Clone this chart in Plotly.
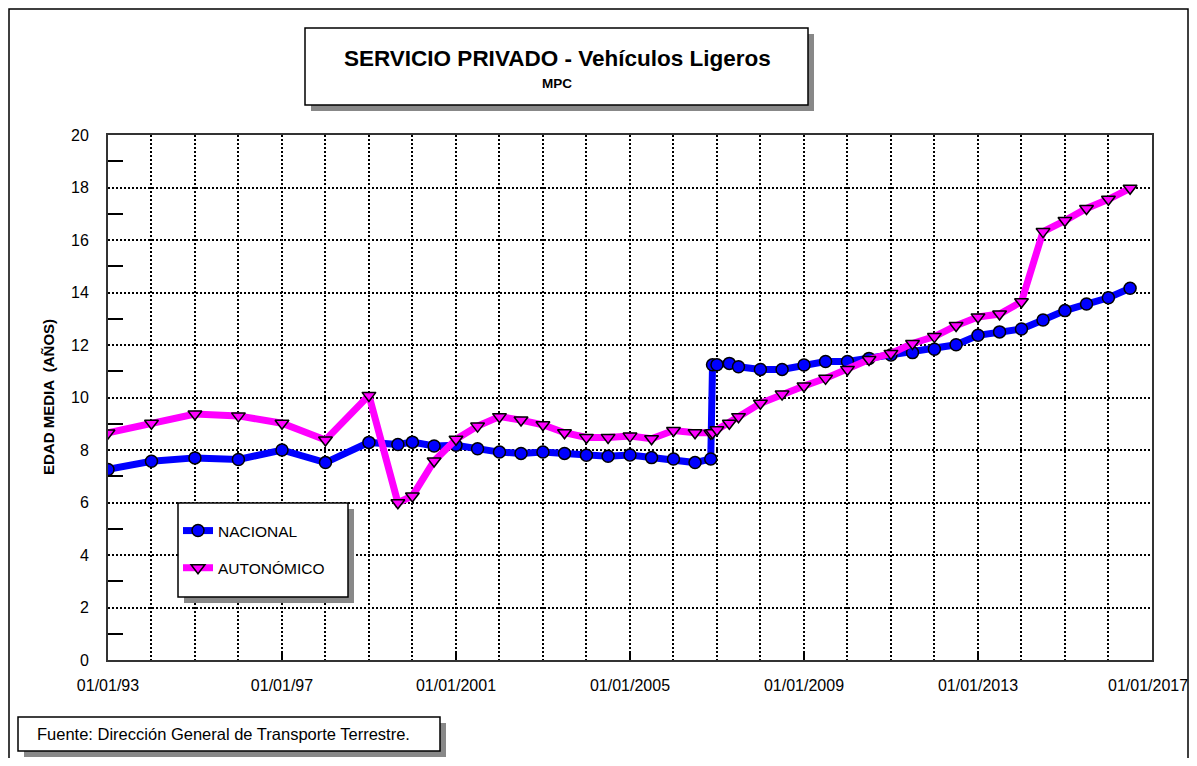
import plotly.graph_objects as go

# ---------------- data ----------------
dates = ["1993-01-01", "1994-01-01", "1995-01-01", "1996-01-01", "1997-01-01",
         "1998-01-01", "1999-01-01", "1999-09-01", "2000-01-01", "2000-07-01",
         "2001-01-01", "2001-07-01", "2002-01-01", "2002-07-01", "2003-01-01",
         "2003-07-01", "2004-01-01", "2004-07-01", "2005-01-01", "2005-07-01",
         "2006-01-01", "2006-07-01", "2006-11-10", "2006-11-25", "2007-01-01",
         "2007-04-15", "2007-07-01", "2008-01-01", "2008-07-01", "2009-01-01",
         "2009-07-01", "2010-01-01", "2010-07-01", "2011-01-01", "2011-07-01",
         "2012-01-01", "2012-07-01", "2013-01-01", "2013-07-01", "2014-01-01",
         "2014-07-01", "2015-01-01", "2015-07-01", "2016-01-01", "2016-07-01"]

nacional = [7.26, 7.57, 7.70, 7.64, 8.00, 7.52, 8.29, 8.21, 8.30, 8.15,
            8.18, 8.05, 7.92, 7.87, 7.92, 7.87, 7.80, 7.76, 7.81, 7.71,
            7.66, 7.52, 7.66, 11.25, 11.25, 11.30, 11.17, 11.07, 11.07, 11.24,
            11.37, 11.37, 11.49, 11.62, 11.71, 11.84, 12.01, 12.37, 12.50, 12.61,
            12.95, 13.31, 13.56, 13.80, 14.16]

autonomico = [8.65, 9.02, 9.37, 9.30, 9.02, 8.38, 10.08, 5.99, 6.25, 7.58,
              8.41, 8.91, 9.27, 9.14, 8.96, 8.66, 8.48, 8.48, 8.53, 8.43,
              8.74, 8.66, 8.64, 8.66, 8.77, 9.02, 9.27, 9.78, 10.13, 10.44,
              10.73, 11.07, 11.45, 11.68, 12.06, 12.32, 12.74, 13.07, 13.18, 13.65,
              16.32, 16.74, 17.20, 17.55, 17.97]

tick_vals = ["1993-01-01", "1997-01-01", "2001-01-01", "2005-01-01",
             "2009-01-01", "2013-01-01", "2017-01-01"]
tick_text = ["01/01/93", "01/01/97", "01/01/2001", "01/01/2005",
             "01/01/2009", "01/01/2013", "01/01/2017"]

title_main = "SERVICIO PRIVADO - Vehículos Ligeros"
title_sub = "MPC"
y_title = "EDAD MEDIA  (AÑOS)"
source = "Fuente: Dirección General de Transporte Terrestre."

# ---------------- layout helpers (window pixel coords) ----------------
OFF = 8                      # page body margin
W, H = 1197 - 2 * OFF, 766 - 2 * OFF
PL, PR, PT, PB = 108, 1152, 135, 660   # plot area in window coords
L, T = PL - OFF, PT - OFF
R, B = W - (PR - OFF), H - (PB - OFF)
PW, PH = PR - PL, PB - PT


def px(x):
    return (x - PL) / PW


def py(y):
    return (PB - y) / PH


FONT = "Liberation Sans, Arial, sans-serif"

fig = go.Figure()

fig.add_trace(go.Scatter(
    x=dates, y=nacional, name="NACIONAL", mode="lines+markers",
    line=dict(color="#0000FF", width=7),
    marker=dict(symbol="circle", size=12, color="#0000FF",
                line=dict(color="#000000", width=1.5)),
    legendrank=1, legendgroup="n"))

fig.add_trace(go.Scatter(
    x=dates, y=autonomico, name="AUTONÓMICO", mode="lines+markers",
    line=dict(color="#FF00FF", width=7),
    marker=dict(symbol="triangle-down", size=12, color="#FF00FF",
                line=dict(color="#000000", width=1.5)),
    legendrank=2, legendgroup="a"))

shapes = []
# outer frame
shapes.append(dict(type="rect", xref="paper", yref="paper",
                   x0=px(9), x1=px(1188), y0=py(800), y1=py(9),
                   line=dict(color="#000000", width=1.5), layer="below"))
# title box shadow + box
shapes.append(dict(type="rect", xref="paper", yref="paper",
                   x0=px(311), x1=px(814), y0=py(111), y1=py(34),
                   fillcolor="#888888", line=dict(width=0), layer="below"))
shapes.append(dict(type="rect", xref="paper", yref="paper",
                   x0=px(305), x1=px(808), y0=py(105), y1=py(28),
                   fillcolor="#FFFFFF", line=dict(color="#000000", width=1.5), layer="below"))
# source box shadow + box
shapes.append(dict(type="rect", xref="paper", yref="paper",
                   x0=px(24), x1=px(446), y0=py(757), y1=py(723),
                   fillcolor="#888888", line=dict(width=0), layer="below"))
shapes.append(dict(type="rect", xref="paper", yref="paper",
                   x0=px(18), x1=px(440), y0=py(751), y1=py(717),
                   fillcolor="#FFFFFF", line=dict(color="#000000", width=1.5), layer="below"))
# legend shadow + box
shapes.append(dict(type="rect", xref="paper", yref="paper",
                   x0=px(184), x1=px(354), y0=py(603), y1=py(509),
                   fillcolor="#888888", line=dict(width=0), layer="above"))
shapes.append(dict(type="rect", xref="paper", yref="paper",
                   x0=px(178), x1=px(348), y0=py(597), y1=py(503),
                   fillcolor="#FFFFFF", line=dict(color="#000000", width=1.5), layer="above"))

annotations = [
    dict(text="<b>" + title_main + "</b>", xref="paper", yref="paper",
         x=px(557), y=py(59), xanchor="center", yanchor="middle", showarrow=False,
         font=dict(family=FONT, size=22.5, color="#000000")),
    dict(text="<b>" + title_sub + "</b>", xref="paper", yref="paper",
         x=px(557), y=py(84), xanchor="center", yanchor="middle", showarrow=False,
         font=dict(family=FONT, size=13.5, color="#000000")),
    dict(text=source, xref="paper", yref="paper",
         x=px(35), y=py(734), xanchor="left", yanchor="middle", showarrow=False,
         font=dict(family=FONT, size=16.5, color="#000000")),
    dict(text="<b>" + y_title + "</b>", xref="paper", yref="paper",
         x=px(48), y=py(397), xanchor="center", yanchor="middle",
         textangle=-90, showarrow=False,
         font=dict(family=FONT, size=15, color="#000000")),
    # last date label, kept inside the page so it does not overflow
    dict(text=tick_text[-1], xref="paper", yref="paper",
         x=px(1190), y=py(685), xanchor="right", yanchor="middle",
         showarrow=False, xshift=0,
         font=dict(family=FONT, size=16, color="#000000")),
]

fig.update_layout(
    width=W, height=H,
    margin=dict(l=L, r=R, t=T, b=B),
    paper_bgcolor="#FFFFFF", plot_bgcolor="#FFFFFF",
    font=dict(family=FONT, size=16, color="#000000"),
    shapes=shapes, annotations=annotations,
    showlegend=True,
    legend=dict(x=px(178), y=py(514), xanchor="left", yanchor="top",
                bgcolor="rgba(0,0,0,0)", borderwidth=0,
                font=dict(family=FONT, size=15.5, color="#000000"),
                itemwidth=30, tracegroupgap=14),
)

fig.update_xaxes(
    type="date", range=["1993-01-01", "2017-01-01"],
    tickvals=tick_vals[:-1], ticktext=tick_text[:-1],
    showline=True, linecolor="#333333", linewidth=2, mirror=True,
    ticks="inside", ticklen=8, tickcolor="#000000", tickwidth=1.5,
    showgrid=True, gridcolor="#000000", gridwidth=1.5, griddash="2px,2px",
    minor=dict(dtick="M12", showgrid=True, gridcolor="#000000",
               gridwidth=1.5, griddash="2px,2px", ticks=""),
    tickfont=dict(family=FONT, size=16), ticklabelstandoff=10,
    zeroline=False,
)

fig.update_yaxes(
    range=[0, 20], dtick=2,
    showline=True, linecolor="#333333", linewidth=2, mirror=True,
    ticks="", showgrid=True, gridcolor="#000000", gridwidth=1.5, griddash="2px,2px",
    minor=dict(dtick=1, ticks="inside", ticklen=15, tickcolor="#000000",
               tickwidth=1.5, showgrid=False),
    tickfont=dict(family=FONT, size=16), ticklabelstandoff=14,
    zeroline=False,
)

fig.write_html("out.html")
